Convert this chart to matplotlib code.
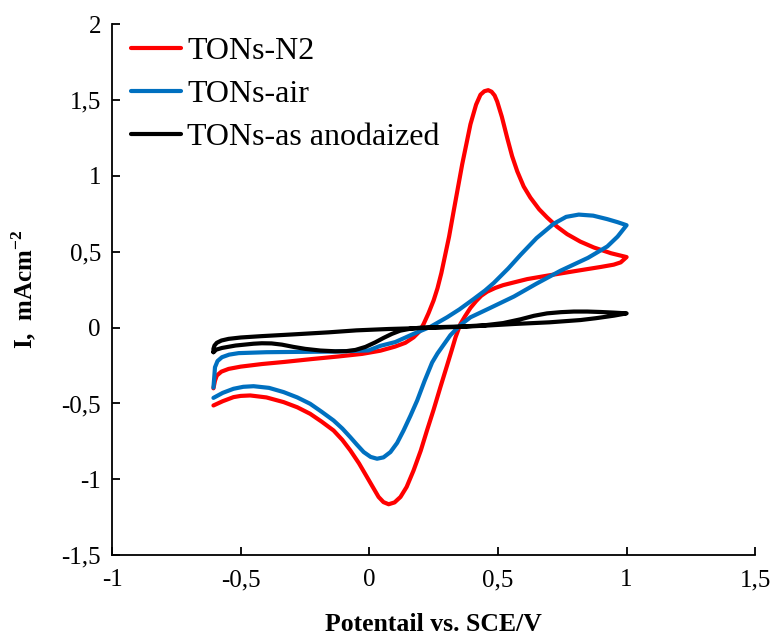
import matplotlib
matplotlib.use("Agg")
import matplotlib.pyplot as plt

# ---------------- data ----------------
# TONs-N2 (anodic sweep then cathodic sweep)
n2_x = [-0.606, -0.600, -0.593, -0.575, -0.547, -0.500, -0.418, -0.330, -0.223, -0.120, -0.028, 0.043, 0.100,
        0.140, 0.172, 0.195, 0.211, 0.230, 0.250, 0.265, 0.280, 0.295, 0.310, 0.328, 0.361, 0.393, 0.415,
        0.432, 0.447, 0.462, 0.475, 0.487, 0.497, 0.515, 0.536, 0.555, 0.575, 0.600, 0.626, 0.660, 0.691,
        0.730, 0.769, 0.820, 0.873, 0.940, 1.000,
        0.977, 0.950, 0.900, 0.808, 0.700, 0.614, 0.562, 0.520, 0.490, 0.458, 0.435, 0.415, 0.393, 0.372,
        0.354, 0.335, 0.320, 0.302, 0.276, 0.250, 0.224, 0.200, 0.172, 0.145, 0.121, 0.098, 0.075, 0.055,
        0.036, 0.015, -0.009, -0.040, -0.074, -0.105, -0.139, -0.185, -0.230, -0.280, -0.333, -0.400,
        -0.463, -0.500, -0.528, -0.570, -0.606]
n2_y = [-0.400, -0.350, -0.316, -0.290, -0.272, -0.257, -0.240, -0.226, -0.207, -0.190, -0.173, -0.152, -0.125,
        -0.100, -0.064, -0.025, 0.024, 0.095, 0.180, 0.260, 0.360, 0.480, 0.600, 0.770, 1.077, 1.340, 1.470,
        1.535, 1.558, 1.565, 1.555, 1.530, 1.490, 1.390, 1.250, 1.130, 1.030, 0.930, 0.857, 0.780, 0.726,
        0.665, 0.616, 0.567, 0.528, 0.490, 0.465,
        0.430, 0.415, 0.400, 0.375, 0.345, 0.320, 0.298, 0.280, 0.262, 0.237, 0.210, 0.175, 0.130, 0.075,
        0.024, -0.064, -0.150, -0.250, -0.393, -0.540, -0.678, -0.810, -0.941, -1.050, -1.116, -1.152, -1.164,
        -1.150, -1.116, -1.055, -0.985, -0.895, -0.809, -0.740, -0.678, -0.620, -0.568, -0.525, -0.491, -0.460,
        -0.447, -0.450, -0.458, -0.485, -0.513]

# TONs-air
air_x = [-0.606, -0.603, -0.600, -0.590, -0.573, -0.545, -0.508, -0.400, -0.288, -0.139, -0.003, 0.043, 0.101,
         0.172, 0.237, 0.302, 0.350, 0.406, 0.450, 0.484, 0.540, 0.588, 0.650, 0.717, 0.765, 0.814, 0.870,
         0.925, 0.965, 1.000,
         0.965, 0.925, 0.850, 0.743, 0.650, 0.562, 0.470, 0.393, 0.360, 0.335, 0.315, 0.290, 0.265, 0.244,
         0.215, 0.186, 0.160, 0.133, 0.108, 0.082, 0.055, 0.030, 0.005, -0.022, -0.048, -0.074, -0.105, -0.139,
         -0.185, -0.230, -0.280, -0.333, -0.390, -0.450, -0.490, -0.528, -0.570, -0.606]
air_y = [-0.395, -0.330, -0.261, -0.220, -0.195, -0.178, -0.168, -0.162, -0.160, -0.158, -0.150, -0.120, -0.095,
         -0.041, 0.005, 0.068, 0.120, 0.189, 0.245, 0.295, 0.390, 0.480, 0.590, 0.685, 0.730, 0.745, 0.738,
         0.715, 0.695, 0.675,
         0.600, 0.535, 0.460, 0.375, 0.290, 0.205, 0.130, 0.068, 0.025, -0.015, -0.050, -0.110, -0.170, -0.230,
         -0.350, -0.480, -0.580, -0.678, -0.760, -0.820, -0.855, -0.864, -0.852, -0.820, -0.772, -0.722, -0.665,
         -0.612, -0.555, -0.502, -0.460, -0.425, -0.397, -0.386, -0.390, -0.403, -0.430, -0.463]

# TONs-as anodaized
anod_x = [-0.606, -0.595, -0.573, -0.520, -0.450, -0.418, -0.380, -0.340, -0.295, -0.249, -0.190, -0.132,
          -0.090, -0.054, -0.015, 0.023, 0.055, 0.088, 0.120, 0.160, 0.200, 0.280, 0.367, 0.450, 0.520, 0.588,
          0.640, 0.691, 0.745, 0.795, 0.847, 0.900, 0.950, 1.000,
          0.951, 0.880, 0.821, 0.700, 0.562, 0.450, 0.354, 0.200, 0.075, -0.050, -0.158, -0.300, -0.418,
          -0.500, -0.547, -0.575, -0.593, -0.602, -0.606, -0.606]
anod_y = [-0.162, -0.145, -0.134, -0.118, -0.106, -0.103, -0.104, -0.112, -0.127, -0.140, -0.151, -0.156,
          -0.155, -0.147, -0.127, -0.097, -0.068, -0.041, -0.020, -0.007, 0.000, 0.004, 0.008, 0.016, 0.030, 0.055,
          0.078, 0.094, 0.102, 0.106, 0.106, 0.103, 0.099, 0.094,
          0.079, 0.062, 0.050, 0.035, 0.024, 0.013, 0.005, -0.003, -0.009, -0.018, -0.031, -0.045, -0.056,
          -0.065, -0.074, -0.085, -0.100, -0.118, -0.140, -0.162]

series_labels = ["TONs-N2", "TONs-air", "TONs-as anodaized"]
series_colors = ["#FF0000", "#0070C0", "#000000"]

x_ticks = [-1, -0.5, 0, 0.5, 1, 1.5]
x_tick_labels = ["-1", "-0,5", "0", "0,5", "1", "1,5"]
y_ticks = [-1.5, -1, -0.5, 0, 0.5, 1, 1.5, 2]
y_tick_labels = ["-1,5", "-1", "-0,5", "0", "0,5", "1", "1,5", "2"]

x_label = "Potentail vs. SCE/V"
y_label = r"I,  mAcm$^{\mathbf{-2}}$"

# ---------------- plot ----------------
plt.rcParams['font.family'] = ['Liberation Serif', 'DejaVu Serif']
plt.rcParams['mathtext.fontset'] = 'custom'
plt.rcParams['mathtext.rm'] = 'Liberation Serif'
plt.rcParams['mathtext.bf'] = 'Liberation Serif:bold'

fig = plt.figure(figsize=(7.73, 6.36), dpi=100)
ax = fig.add_axes([0.145, 0.127, 0.832, 0.835])

for xs, ys, lab, col in zip([n2_x, air_x, anod_x], [n2_y, air_y, anod_y], series_labels, series_colors):
    ax.plot(xs, ys, color=col, lw=3.0, label=lab, solid_capstyle='round', solid_joinstyle='round')

ax.set_xlim(-1, 1.5)
ax.set_ylim(-1.5, 2)
ax.set_xticks(x_ticks)
ax.set_xticklabels(x_tick_labels)
ax.set_yticks(y_ticks)
ax.set_yticklabels(y_tick_labels)
ax.tick_params(direction='in', length=6, width=1.3, labelsize=18, pad=10)
ax.tick_params(axis='y', pad=8)

for s in ['top', 'right']:
    ax.spines[s].set_visible(False)
for s in ['left', 'bottom']:
    ax.spines[s].set_linewidth(1.3)

ax.set_xlabel(x_label, fontsize=18.5, fontweight='bold', labelpad=16)
ax.set_ylabel(y_label, fontsize=18, fontweight='bold', labelpad=16)

leg = ax.legend(loc='upper left', bbox_to_anchor=(0.01, 1.0), frameon=False, fontsize=23,
                handlelength=1.55, handletextpad=0.2, labelspacing=0.42, borderaxespad=0.0)

fig.savefig("out.png", dpi=100)
